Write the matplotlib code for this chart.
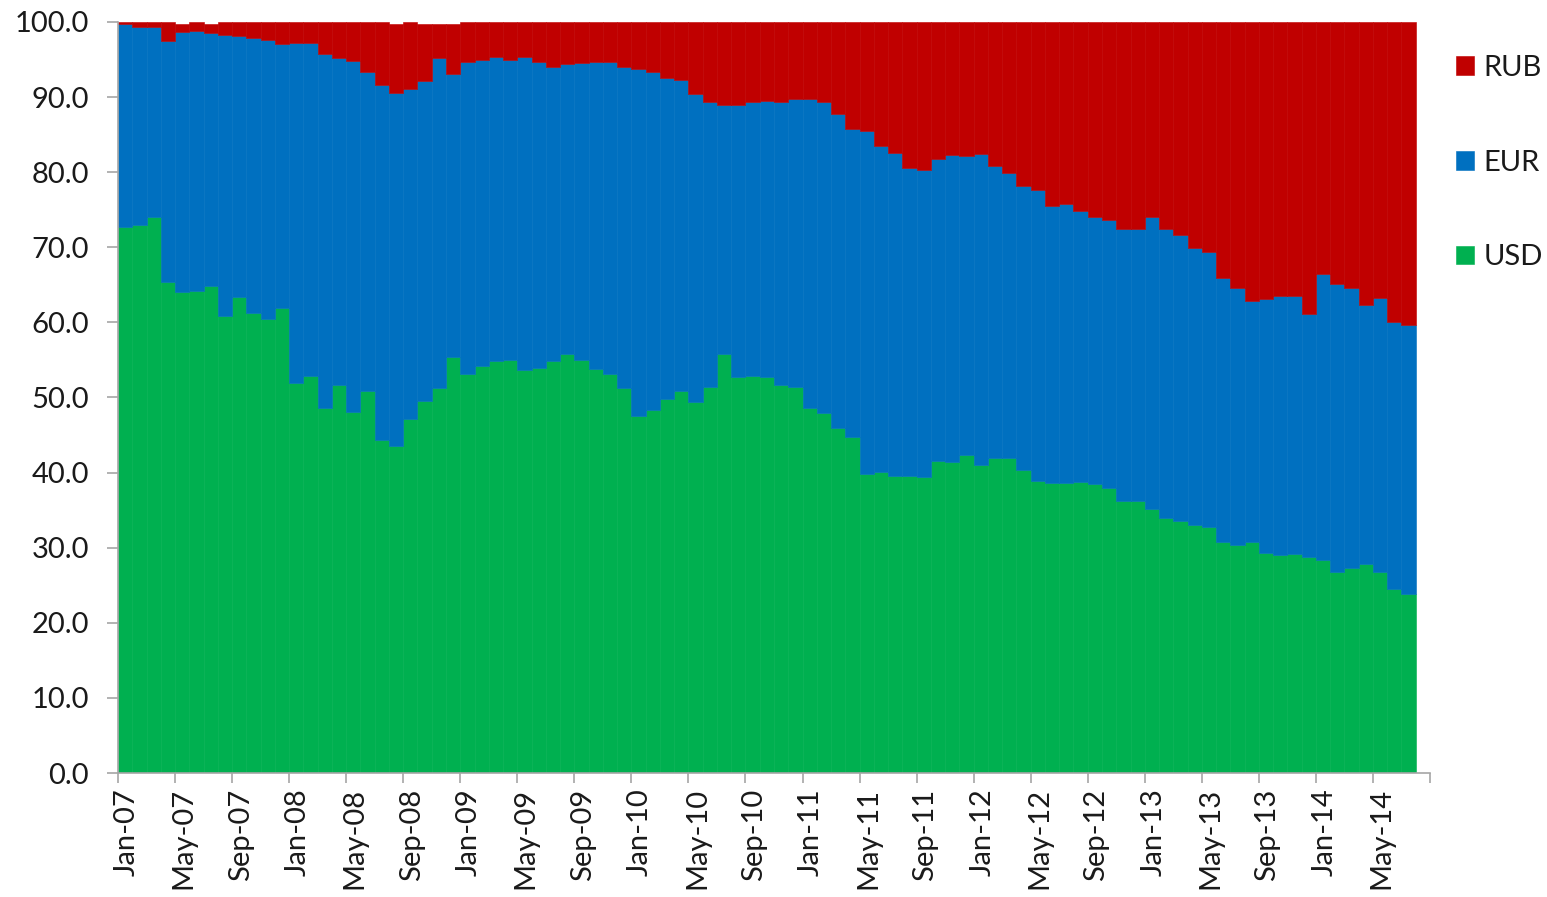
import matplotlib
matplotlib.use("Agg")
import matplotlib.pyplot as plt
import numpy as np

# Monthly shares (%), Jan-07 .. Jul-14
USD = [72.7, 73.0, 74.0, 65.4, 64.0, 64.2, 64.8, 60.9, 63.4, 61.3, 60.5, 61.9,
       51.9, 52.9, 48.6, 51.6, 48.1, 50.8, 44.3, 43.6, 47.2, 49.6, 51.2, 55.4,
       53.1, 54.2, 54.8, 55.0, 53.6, 53.9, 54.8, 55.8, 55.0, 53.8, 53.1, 51.3,
       47.5, 48.3, 49.8, 50.8, 49.4, 51.4, 55.8, 52.7, 52.9, 52.7, 51.7, 51.4,
       48.6, 47.9, 46.0, 44.8, 39.8, 40.1, 39.5, 39.5, 39.4, 41.6, 41.4, 42.4,
       41.0, 42.0, 42.0, 40.3, 38.9, 38.6, 38.6, 38.8, 38.5, 37.9, 36.2, 36.2,
       35.1, 34.0, 33.6, 33.0, 32.8, 30.7, 30.4, 30.7, 29.3, 29.0, 29.2, 28.8,
       28.4, 26.8, 27.3, 27.8, 26.7, 24.5, 23.8]
EUR = [27.0, 26.4, 25.4, 32.1, 34.7, 34.6, 33.7, 37.4, 34.7, 36.6, 37.1, 35.2,
       45.3, 44.3, 47.2, 43.6, 46.7, 42.5, 47.3, 47.0, 43.9, 42.5, 44.0, 37.7,
       41.6, 40.8, 40.5, 40.0, 41.7, 40.8, 39.2, 38.6, 39.6, 40.9, 41.6, 42.7,
       46.2, 45.0, 42.8, 41.5, 41.0, 37.9, 33.1, 36.3, 36.4, 36.8, 37.6, 38.3,
       41.2, 41.4, 41.8, 41.0, 45.7, 43.4, 43.1, 41.0, 40.9, 40.1, 40.9, 39.8,
       41.4, 38.8, 37.9, 37.9, 38.7, 36.9, 37.1, 36.0, 35.5, 35.7, 36.3, 36.2,
       38.9, 38.5, 38.1, 36.9, 36.6, 35.2, 34.2, 32.1, 33.8, 34.5, 34.3, 32.3,
       38.0, 38.3, 37.3, 34.5, 36.6, 35.5, 35.8]
RUB = [0.3, 0.6, 0.6, 2.5, 1.1, 1.2, 1.3, 1.7, 1.9, 2.1, 2.4, 2.9,
       2.8, 2.8, 4.2, 4.8, 5.2, 6.7, 8.4, 9.2, 8.9, 7.7, 4.6, 6.7,
       5.3, 5.0, 4.7, 5.0, 4.7, 5.3, 6.0, 5.6, 5.4, 5.3, 5.3, 6.0,
       6.3, 6.7, 7.4, 7.7, 9.6, 10.7, 11.1, 11.0, 10.7, 10.5, 10.7, 10.3,
       10.2, 10.7, 12.2, 14.2, 14.5, 16.5, 17.4, 19.5, 19.7, 18.3, 17.7, 17.8,
       17.6, 19.2, 20.1, 21.8, 22.4, 24.5, 24.3, 25.2, 26.0, 26.4, 27.5, 27.6,
       26.0, 27.5, 28.3, 30.1, 30.6, 34.1, 35.4, 37.2, 36.9, 36.5, 36.5, 38.9,
       33.6, 34.9, 35.4, 37.7, 36.7, 40.0, 40.4]

TICK_LABELS = ["Jan-07", "May-07", "Sep-07", "Jan-08", "May-08", "Sep-08",
               "Jan-09", "May-09", "Sep-09", "Jan-10", "May-10", "Sep-10",
               "Jan-11", "May-11", "Sep-11", "Jan-12", "May-12", "Sep-12",
               "Jan-13", "May-13", "Sep-13", "Jan-14", "May-14"]
Y_TICKS = [0, 10, 20, 30, 40, 50, 60, 70, 80, 90, 100]

C_USD = "#00B050"
C_EUR = "#0070C0"
C_RUB = "#C00000"
GRAY = "#A6A6A6"
TXT = "#1a1a1a"
FS = 21

plt.rcParams['font.family'] = ['Lato', 'DejaVu Sans']

fig = plt.figure(figsize=(15.47, 8.97), dpi=100)
ax = fig.add_axes([118 / 1547, 124 / 897, (1430 - 118) / 1547, (773 - 22) / 897])

x = np.arange(len(USD))
usd = np.array(USD)
eur = np.array(EUR)
rub = np.array(RUB)

b_usd = ax.bar(x, usd, width=1.0, align='edge', color=C_USD, edgecolor=C_USD, linewidth=0.4, label="USD")
b_eur = ax.bar(x, eur, width=1.0, align='edge', bottom=usd, color=C_EUR, edgecolor=C_EUR, linewidth=0.4, label="EUR")
b_rub = ax.bar(x, rub, width=1.0, align='edge', bottom=usd + eur, color=C_RUB, edgecolor=C_RUB, linewidth=0.4, label="RUB")

n_ticks = len(TICK_LABELS) + 1
ax.set_xlim(0, 4 * (n_ticks - 1))
ax.set_ylim(0, 100)

ax.set_xticks(np.arange(n_ticks) * 4)
ax.set_xticklabels([])
ax.set_xticks(np.arange(len(TICK_LABELS)) * 4 + 0.6, minor=True)
ax.set_xticklabels(TICK_LABELS, minor=True, rotation=90, fontsize=FS, color=TXT)
ax.tick_params(axis='x', which='major', length=7, color=GRAY, width=1.2, direction='out')
ax.tick_params(axis='x', which='minor', length=0, pad=11)

ax.set_yticks(Y_TICKS)
ax.set_yticklabels([f"{v:.1f}" for v in Y_TICKS], fontsize=FS, color=TXT)
ax.tick_params(axis='y', length=8, color=GRAY, width=1.2, direction='out', pad=13)

for s in ['top', 'right']:
    ax.spines[s].set_visible(False)
for s in ['left', 'bottom']:
    ax.spines[s].set_color(GRAY)
    ax.spines[s].set_linewidth(1.2)

leg = ax.legend(handles=[b_rub, b_eur, b_usd], labels=["RUB", "EUR", "USD"],
                loc='upper left', bbox_to_anchor=(1456 / 1547, 1 - 55 / 897),
                bbox_transform=fig.transFigure, frameon=False, fontsize=FS,
                handlelength=0.6, handleheight=0.6, handletextpad=0.35,
                labelspacing=2.35, borderpad=0, borderaxespad=0)
for t in leg.get_texts():
    t.set_color(TXT)

fig.savefig("out.png", dpi=100)
